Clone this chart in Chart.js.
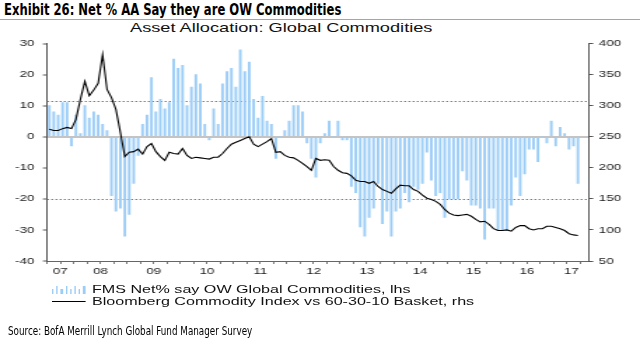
<!DOCTYPE html>
<html>
<head>
<meta charset="utf-8">
<script src="https://cdn.jsdelivr.net/npm/chart.js@4.4.1/dist/chart.umd.min.js"></script>
<style>
html, body { margin: 0; padding: 0; background: #fff; }
#wrap { position: relative; width: 640px; height: 354px; overflow: hidden; background: #fff; }
#chart { position: absolute; left: 0; top: 0; width: 640px; height: 354px; }
.hdr { position: absolute; left: 4px; top: 1px; font: bold 15px "Liberation Sans Narrow", "DejaVu Sans Condensed", sans-serif; color: #000; white-space: nowrap; transform: scaleX(0.86); transform-origin: 0 0; }
.rule { position: absolute; left: 0; top: 19px; width: 640px; height: 1px; background: #9aa6bf; }
.src { position: absolute; left: 8px; top: 324px; font: 11.5px "Liberation Sans Narrow", "DejaVu Sans Condensed", sans-serif; color: #000; white-space: nowrap; transform: scaleX(0.85); transform-origin: 0 0; }
/* the original chart image is stretched sideways, so its own text is too */
.stretch { position: absolute; transform: scaleX(1.4); transform-origin: 0 0; white-space: nowrap; font-family: "Liberation Sans", Arial, sans-serif; color: #111; }
.sub { left: 130px; top: 20px; font-size: 13px; line-height: 15px; }
.leg { left: 52px; font-size: 11.5px; line-height: 12px; display: flex; align-items: center; }
.icon { width: 23.6px; height: 9px; margin-right: 5px; display: flex; align-items: flex-end; justify-content: space-between; }
.icon i { display: block; width: 1.2px; background: #9ccdf7; }
.icon.line { align-items: center; }
.icon.line i { width: 23.6px; height: 1px; background: #000; }
</style>
</head>
<body>
<div id="wrap">
  <div class="hdr">Exhibit 26: Net % AA Say they are OW Commodities</div>
  <div class="rule"></div>
  <div class="stretch sub">Asset Allocation: Global Commodities</div>
  <canvas id="chart" width="457" height="354" style="width:640px;height:354px"></canvas>
  <div class="stretch leg" style="top:283px">
    <span class="icon"><i style="height:5px"></i><i style="height:8px"></i><i style="height:5px"></i><i style="height:8px"></i><i style="height:5px"></i><i style="height:8px"></i><i style="height:5px"></i><i style="height:8px"></i></span>
    <span>FMS Net% say OW Global Commodities, lhs</span>
  </div>
  <div class="stretch leg" style="top:295px">
    <span class="icon line"><i></i></span>
    <span>Bloomberg Commodity Index vs 60-30-10 Basket, rhs</span>
  </div>
  <div class="src">Source: BofA Merrill Lynch Global Fund Manager Survey</div>
</div>
<script>
// monthly categories, Jul 2007 .. Aug 2017
const startYear = 2007, startMonth = 6, monthCount = 122;
const yearLabels = ['07', '08', '09', '10', '11', '12', '13', '14', '15', '16', '17'];

// FMS net % overweight commodities (lhs), Jul 2007 onwards
const fmsNet = [
  10, 8, 7, 11, 11, -3, 7, 1, 10, 6, 8, 7,
  4, 2, -19, -24, -23, -32, -25, -15, -6, 4, 7, 19,
  8, 12, 9, 11, 25, 22, 23, 10, 16, 20, 17, 4,
  -1, 9, 4, 17, 21, 22, 16, 28, 21, 24, 12, 6,
  13, 5, 4, -7, 0, 2, 5, 10, 10, 8, -2, -7,
  -13, -2, 1, 5, 0, 5, -1, -1, -16, -18, -29, -32,
  -26, -23, -15, -28, -24, -32, -24, -23, -18, -21, -16, -17,
  -15, -5, -14, -19, -18, -26, -20, -20, -20, -11, -14, -22,
  -22, -23, -33, -23, -23, -30, -30, -30, -22, -13, -19, -12,
  -4, -4, -8, 0, -2, 5, -3, 3, 1, -4, -3, -15
];

// Bloomberg Commodity Index vs 60-30-10 basket (rhs)
const bcomRatio = [
  262, 260, 260, 263, 265, 263, 278, 310, 339, 316, 325, 336,
  382, 326, 313, 294, 257, 218, 225, 226, 230, 222, 234, 239,
  226, 218, 212, 225, 223, 222, 231, 220, 215, 217, 216, 215,
  214, 217, 217, 223, 231, 238, 241, 244, 247, 250, 238, 234,
  238, 242, 247, 225, 226, 220, 217, 216, 212, 207, 202, 196,
  215, 212, 213, 212, 202, 196, 192, 191, 187, 180, 178, 178,
  175, 178, 170, 165, 162, 159, 166, 172, 171, 171, 165, 162,
  156, 151, 149, 146, 141, 133, 127, 124, 123, 124, 125, 122,
  117, 113, 114, 109, 102, 99, 99, 100, 98, 104, 107, 107,
  102, 100, 102, 102, 106, 106, 104, 102, 99, 94, 92, 91
];

const refLevels = [11.5, -20];   // dotted bands, lhs

const months = [];
for (let i = 0; i < monthCount; i++) {
  const m = startMonth + i;
  months.push((startYear + Math.floor(m / 12)) + '-' + String(m % 12 + 1).padStart(2, '0'));
}

// put each year label in the middle of the months of that year shown on the axis
const yearTick = {};
yearLabels.forEach(lbl => {
  const yr = '20' + lbl;
  const idx = months.map((m, i) => m.startsWith(yr) ? i : -1).filter(i => i >= 0);
  yearTick[idx[0] + Math.floor(idx.length / 2)] = lbl;
});

const tickFont = { family: '"Liberation Sans", Arial, sans-serif', size: 9.5 };
const axisGrey = '#555';

const refLines = {
  id: 'refLines',
  beforeDatasetsDraw(chart) {
    const { ctx, chartArea: a, scales: { y } } = chart;
    ctx.save();
    ctx.strokeStyle = '#7a7a7a';
    ctx.lineWidth = 1;
    ctx.setLineDash([1.4, 1.6]);
    refLevels.forEach(v => {
      const py = Math.round(y.getPixelForValue(v)) + 0.5;
      ctx.beginPath();
      ctx.moveTo(a.left, py);
      ctx.lineTo(a.right, py);
      ctx.stroke();
    });
    ctx.restore();
  }
};

const ctx = document.getElementById('chart').getContext('2d');
const chart = new Chart(ctx, {
  type: 'bar',
  data: {
    labels: months,
    datasets: [{
      type: 'line',
      label: 'Bloomberg Commodity Index vs 60-30-10 Basket, rhs',
      data: bcomRatio,
      yAxisID: 'y2',
      borderColor: '#000',
      borderWidth: 1.1,
      pointRadius: 0,
      tension: 0,
      order: 0
    }, {
      label: 'FMS Net% say OW Global Commodities, lhs',
      data: fmsNet,
      yAxisID: 'y',
      backgroundColor: '#9ccdf7',
      barThickness: 1.25,
      order: 1
    }]
  },
  options: {
    responsive: false,
    animation: false,
    devicePixelRatio: 1,
    layout: { padding: { top: 43.5, bottom: 73, left: 0, right: 0 } },
    plugins: { legend: { display: false }, tooltip: { enabled: false }, title: { display: false } },
    scales: {
      x: {
        type: 'category',
        offset: true,
        border: { display: true, color: '#666', width: 1 },
        grid: {
          offset: true,
          drawOnChartArea: false,
          drawTicks: true,
          tickLength: 3,
          tickWidth: 0.8,
          tickColor: c => (c.index !== undefined && c.index % 3 === 0) ? axisGrey : 'rgba(0,0,0,0)'
        },
        ticks: {
          autoSkip: false,
          maxRotation: 0,
          minRotation: 0,
          padding: 2,
          labelOffset: -1.585,
          font: tickFont,
          color: '#222',
          callback: (v, i) => yearTick[i] || ''
        },
        afterFit: s => { s.height = 20; }
      },
      y: {
        position: 'left',
        min: -40,
        max: 30,
        border: { display: true, color: axisGrey, width: 1 },
        grid: {
          drawOnChartArea: true,
          color: c => (c.tick && c.tick.value === 0) ? '#c4c4c4' : 'rgba(0,0,0,0)',
          lineWidth: 2,
          tickColor: axisGrey,
          tickWidth: 1,
          tickLength: 3
        },
        ticks: { stepSize: 10, padding: 6, font: tickFont, color: '#222' },
        afterFit: s => { s.width = 33.6; }
      },
      y2: {
        position: 'right',
        min: 50,
        max: 400,
        border: { display: true, color: axisGrey, width: 1 },
        grid: { drawOnChartArea: false, tickColor: axisGrey, tickWidth: 1, tickLength: 3 },
        ticks: { stepSize: 50, padding: 4, font: tickFont, color: '#222' },
        afterFit: s => { s.width = 36.4; }
      }
    }
  },
  plugins: [refLines]
});
</script>
</body>
</html>
